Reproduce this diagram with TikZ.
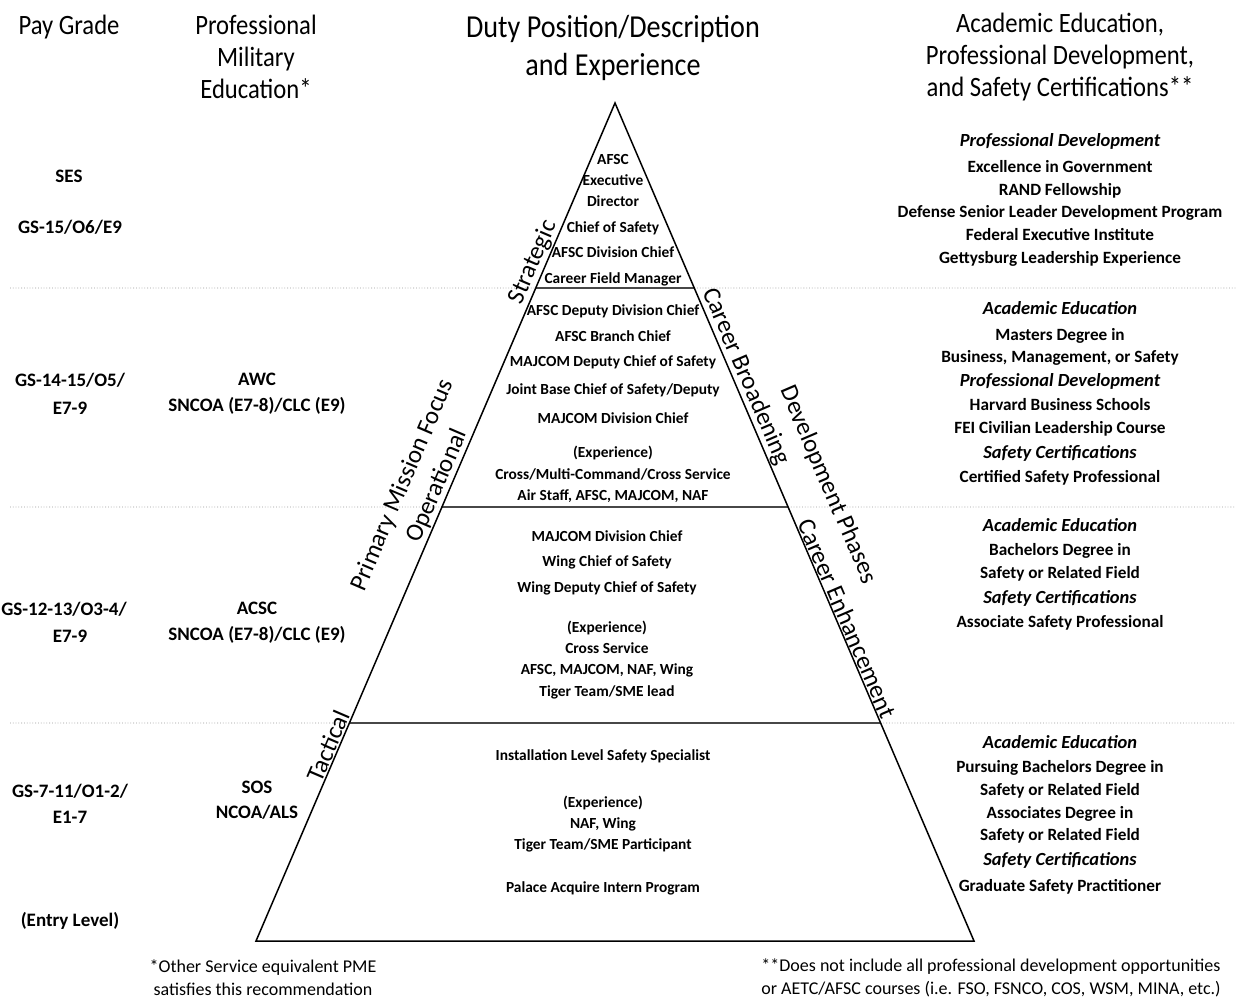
\documentclass[tikz,border=0pt]{standalone}
\usepackage{fontspec}
\setmainfont{Carlito}
\newfontfamily\hdrfont{Carlito}[FakeStretch=0.88]
\usetikzlibrary{calc}
\begin{document}
\begin{tikzpicture}[x=1pt,y=-1pt,
  hdr/.style={font=\hdrfont\fontsize{28}{32}\selectfont, align=center, inner sep=0pt, yshift=-3pt},
  hdrbig/.style={font=\hdrfont\fontsize{32}{38}\selectfont, align=center, inner sep=0pt},
  lc/.style={font=\bfseries\fontsize{19}{22}\selectfont, inner sep=0pt, text height=0.68em, text depth=0.18em, yshift=-3pt},
  py/.style={font=\bfseries\fontsize{15.4}{17}\selectfont, inner sep=0pt, text height=0.68em, text depth=0.18em, yshift=-3pt},
  rc/.style={font=\bfseries\fontsize{17.2}{19}\selectfont, inner sep=0pt, text height=0.68em, text depth=0.18em, yshift=-3pt},
  rci/.style={font=\bfseries\itshape\fontsize{18.5}{20}\selectfont, inner sep=0pt, text height=0.68em, text depth=0.18em, yshift=-3pt},
  sidelab/.style={font=\fontsize{25}{30}\selectfont, align=center, inner sep=1.5pt},
  foot/.style={font=\fontsize{18}{23}\selectfont, align=center, inner sep=0pt},
  tier/.style={line width=2.6pt, black!72},
  outline/.style={line width=1.5pt, black},
  guide/.style={black!40, dotted, line width=0.8pt}
]
\useasboundingbox[fill=white] (0,0) rectangle (1236,1001);

% pyramid corners
\coordinate (apex) at (615,103);
\coordinate (bl) at (256,941);
\coordinate (br) at (974,941);
% tier boundary points
\coordinate (L1) at ($(apex)!0.2208!(bl)$);
\coordinate (R1) at ($(apex)!0.2208!(br)$);
\coordinate (L2) at ($(apex)!0.4821!(bl)$);
\coordinate (R2) at ($(apex)!0.4821!(br)$);
\coordinate (L3) at ($(apex)!0.7399!(bl)$);
\coordinate (R3) at ($(apex)!0.7399!(br)$);
% guide ends
\coordinate (gl1) at (10,288);  \coordinate (gr1) at (1236,288);
\coordinate (gl2) at (10,507);  \coordinate (gr2) at (1236,507);
\coordinate (gl3) at (10,723);  \coordinate (gr3) at (1236,723);

\draw[guide] (gl1) -- (L1);  \draw[guide] (R1) -- (gr1);
\draw[guide] (gl2) -- (L2);  \draw[guide] (R2) -- (gr2);
\draw[guide] (gl3) -- (L3);  \draw[guide] (R3) -- (gr3);

\draw[tier] (L1) -- (R1);
\draw[tier] (L2) -- (R2);
\draw[tier] (L3) -- (R3);
\draw[outline, line join=miter] (apex) -- (bl) -- (br) -- cycle;

% headers
\node[hdr] (hpay) at (69,24) {Pay Grade};
\node[hdr] (hpme) at (256,54) {Professional\\Military\\Education*};
\node[hdrbig] (hduty) at (613,48) {Duty Position/Description\\and Experience};
\node[hdr] (hacad) at (1060,54) {Academic Education,\\Professional Development,\\and Safety Certifications**};

% pay grades
\node[lc] (pg1) at (69,177) {SES};
\node[lc] (pg2) at (70,228) {GS-15/O6/E9};
\node[lc] (pg3) at (70,381) {GS-14-15/O5/};
\node[lc] (pg3b) at (70,409) {E7-9};
\node[lc] (pg4) at (64,610) {GS-12-13/O3-4/};
\node[lc] (pg4b) at (70,637) {E7-9};
\node[lc] (pg5) at (70,792) {GS-7-11/O1-2/};
\node[lc] (pg5b) at (70,818) {E1-7};
\node[lc] (pg6) at (70,921) {(Entry Level)};

% PME
\node[lc] (pm1) at (257,380) {AWC};
\node[lc] (pm1b) at (257,406) {SNCOA (E7-8)/CLC (E9)};
\node[lc] (pm2) at (257,609) {ACSC};
\node[lc] (pm2b) at (257,635) {SNCOA (E7-8)/CLC (E9)};
\node[lc] (pm3) at (257,788) {SOS};
\node[lc] (pm3b) at (257,813) {NCOA/ALS};

% pyramid tier texts
\foreach \s/\y [count=\i] in {AFSC/159, Executive/180, Director/201, {Chief of Safety}/227, {AFSC Division Chief}/252, {Career Field Manager}/278}
  \node[py] (ta\i) at (613,\y) {\s};
\foreach \s/\y [count=\i] in {{AFSC Deputy Division Chief}/310, {AFSC Branch Chief}/336, {MAJCOM Deputy Chief of Safety}/361, {Joint Base Chief of Safety/Deputy}/389, {MAJCOM Division Chief}/418, {(Experience)}/452, {Cross/Multi-Command/Cross Service}/474, {Air Staff, AFSC, MAJCOM, NAF}/495}
  \node[py] (tb\i) at (613,\y) {\s};
\foreach \s/\y [count=\i] in {{MAJCOM Division Chief}/536, {Wing Chief of Safety}/561, {Wing Deputy Chief of Safety}/587, {(Experience)}/627, {Cross Service}/648, {AFSC, MAJCOM, NAF, Wing}/669, {Tiger Team/SME lead}/691}
  \node[py] (tc\i) at (607,\y) {\s};
\foreach \s/\y [count=\i] in {{Installation Level Safety Specialist}/755, {(Experience)}/802, {NAF, Wing}/823, {Tiger Team/SME Participant}/844, {Palace Acquire Intern Program}/887}
  \node[py] (td\i) at (603,\y) {\s};

% right column
\foreach \s/\y/\f [count=\i] in {
  {Professional Development}/141/rci,
  {Excellence in Government}/167/rc,
  {RAND Fellowship}/190/rc,
  {Defense Senior Leader Development Program}/212/rc,
  {Federal Executive Institute}/235/rc,
  {Gettysburg Leadership Experience}/258/rc,
  {Academic Education}/309/rci,
  {Masters Degree in}/335/rc,
  {Business, Management, or Safety}/357/rc,
  {Professional Development}/381/rci,
  {Harvard Business Schools}/405/rc,
  {FEI Civilian Leadership Course}/428/rc,
  {Safety Certifications}/453/rci,
  {Certified Safety Professional}/477/rc,
  {Academic Education}/526/rci,
  {Bachelors Degree in}/550/rc,
  {Safety or Related Field}/573/rc,
  {Safety Certifications}/598/rci,
  {Associate Safety Professional}/622/rc,
  {Academic Education}/743/rci,
  {Pursuing Bachelors Degree in}/767/rc,
  {Safety or Related Field}/790/rc,
  {Associates Degree in}/813/rc,
  {Safety or Related Field}/835/rc,
  {Safety Certifications}/860/rci,
  {Graduate Safety Practitioner}/886/rc}
  \node[\f] (ac\i) at (1060,\y) {\s};

% side labels
\node[sidelab, rotate=66.8, anchor=south] (strat) at ($(apex)!0.196!(bl)$) {Strategic};
\node[sidelab, rotate=66.8] (pmf) at (403,485) {Primary Mission Focus};
\node[sidelab, rotate=66.8, anchor=south] (oper) at ($(apex)!0.463!(bl)$) {Operational};
\node[sidelab, rotate=66.8, anchor=south] (tact) at ($(apex)!0.772!(bl)$) {Tactical};
\node[sidelab, rotate=-66.8, anchor=south] (cbroad) at ($(apex)!0.333!(br)$) {Career Broadening};
\node[sidelab, rotate=-66.8] (devph) at (828,485) {Development Phases};
\node[sidelab, rotate=-66.8, anchor=south] (cenh) at ($(apex)!0.62!(br)$) {Career Enhancement};

% footnotes
\node[foot] (f1) at (263,978) {*Other Service equivalent PME\\satisfies this recommendation};
\node[foot] (f2) at (991,978) {**Does not include all professional development opportunities\\or AETC/AFSC courses (i.e. FSO, FSNCO, COS, WSM, MINA, etc.)};
\end{tikzpicture}
\end{document}
